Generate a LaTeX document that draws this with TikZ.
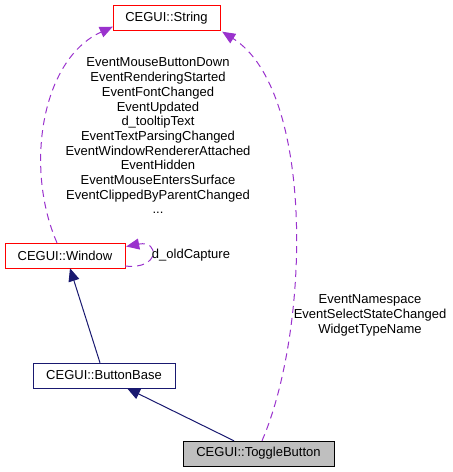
\documentclass[tikz,border=0pt]{standalone}
\usepackage{fontspec}
\setmainfont{Liberation Sans}
\usetikzlibrary{arrows.meta}
\definecolor{inheritclr}{HTML}{191970}
\definecolor{usageclr}{HTML}{9A32CD}
\definecolor{trunc}{HTML}{FF0000}

\begin{document}
\begin{tikzpicture}[x=1pt,y=-1pt,font=\fontsize{13}{14.7}\selectfont,
 cls/.style={draw,rectangle,inner sep=0pt,minimum height=25pt,fill=white},
 truncated/.style={cls,draw=trunc},
 inherit/.style={draw=inheritclr,line width=1pt,-{Triangle[width=11pt,length=13pt]}},
 usage/.style={draw=usageclr,line width=1pt,dash pattern=on 7pt off 5pt,
  -{Triangle[width=11pt,length=13pt,fill=usageclr]}},
 lbl/.style={align=center,inner sep=0pt}]
 \useasboundingbox (0,0) rectangle (453,472);
 \node[truncated,minimum width=107pt] (str) at (166.5,18) {CEGUI::String};
 \node[truncated,minimum width=120pt] (win) at (65,255.5) {CEGUI::Window};
 \node[cls,draw=inheritclr,minimum width=142pt] (bb) at (104,375.5) {CEGUI::ButtonBase};
 \node[cls,fill=black!25,minimum width=151pt] (tog) at (258.5,453.5) {CEGUI::ToggleButton};
 % inheritance
 \draw[inherit] ([xshift=-4pt]bb.north) -- ([xshift=5pt]win.south);
 \draw[inherit] ([xshift=-24.5pt]tog.north) -- ([xshift=23pt]bb.south);
 % usage
 \draw[usage] ([xshift=-8pt]win.north) .. controls (25,170) and (40,60) .. ([yshift=4pt]str.south west);
 \draw[usage] ([xshift=3.5pt]tog.north) .. controls (310,330) and (315,90) .. ([xshift=2pt,yshift=-1pt]str.south east);
 \draw[usage] ([yshift=-10.5pt]win.east) .. controls (160,270) and (160,240) .. ([xshift=1pt,yshift=9pt]win.east);
 \node[lbl] (lwin) at (158,136) {EventMouseButtonDown\\EventRenderingStarted\\EventFontChanged\\EventUpdated\\d\_tooltipText\\EventTextParsingChanged\\EventWindowRendererAttached\\EventHidden\\EventMouseEntersSurface\\EventClippedByParentChanged\\...};
 \node[lbl] (lcap) at (191,255) {d\_oldCapture};
 \node[lbl] (ltog) at (370,315.5) {EventNamespace\\EventSelectStateChanged\\WidgetTypeName};
\end{tikzpicture}
\end{document}
